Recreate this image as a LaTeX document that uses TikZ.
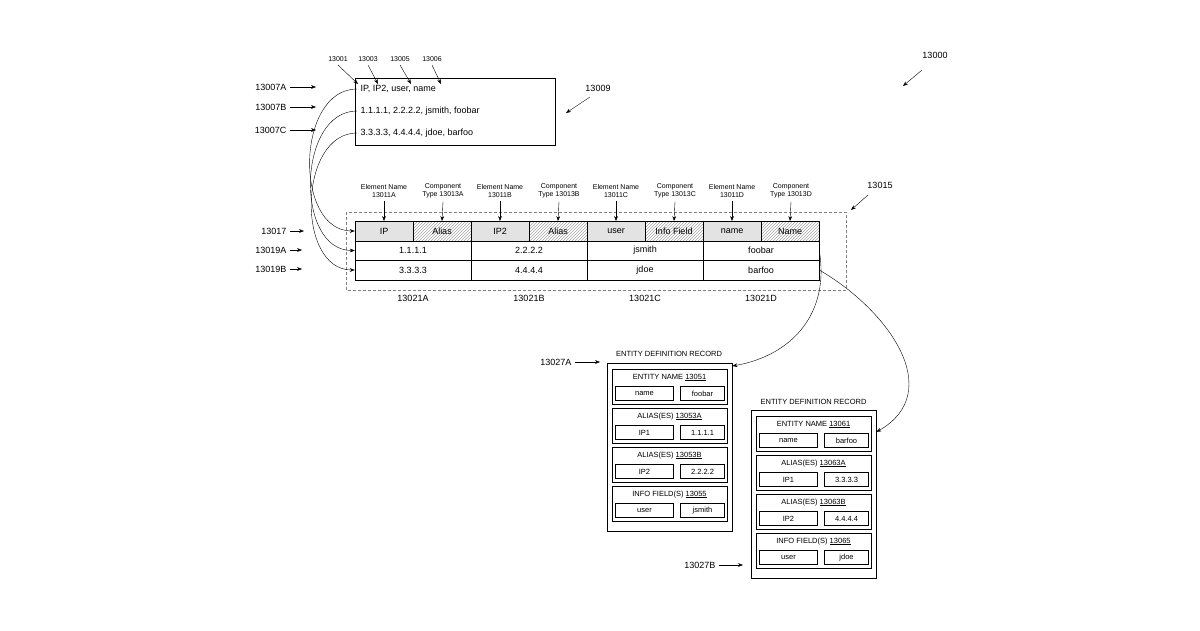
\documentclass[tikz,border=0pt]{standalone}
\usepackage{fontspec}
\setmainfont{Liberation Sans}
\usetikzlibrary{patterns,arrows.meta}
\tikzset{
  lbl/.style={font=\fontsize{9}{10}\selectfont},
  tiny/.style={font=\fontsize{7}{8}\selectfont,align=center},
  ptr/.style={-{Stealth[length=5pt]},thin},
  cell/.style={draw,minimum height=19.5pt,inner sep=0pt,font=\fontsize{9}{10}\selectfont},
  elemcell/.style={cell,fill=gray!22,minimum width=58pt},
  compcell/.style={cell,pattern=north east lines,pattern color=gray!70,minimum width=58pt},
  valcell/.style={cell,minimum width=116pt},
  small/.style={draw,thick,minimum width=#1,minimum height=14pt,inner sep=0pt,font=\fontsize{7.5}{8}\selectfont},
  sect/.style={draw,thick,minimum width=115pt,minimum height=35pt,inner sep=0pt}
}
% one section of an entity definition record
\newcommand{\edrsect}[6]{%
  \node[sect] (#1) at (#2,#3) {};
  \node[font=\fontsize{7.5}{8}\selectfont] at (#2,#3-9) {#4};
  \node[small=58pt] (#1l) at (#2-25,#3+7) {#5};
  \node[small=44pt] (#1r) at (#2+33,#3+7) {#6};
}
\begin{document}
\begin{tikzpicture}[x=1pt,y=-1pt]
	\useasboundingbox (0,0) rectangle (1200,630);
	% reference numeral
	\node[lbl] (n13000) at (935,55) {13000};
	\draw[ptr] (922,70) -- (903,86);
	% input file
	\node[draw,thick,minimum width=200pt,minimum height=67pt,anchor=north west] (file) at (355,78) {};
	\node[lbl,anchor=west] (l1) at (357,89) {IP, IP2, user, name};
	\node[lbl,anchor=west] (l2) at (357,111) {1.1.1.1, 2.2.2.2, jsmith, foobar};
	\node[lbl,anchor=west] (l3) at (357,133) {3.3.3.3, 4.4.4.4, jdoe, barfoo};
	\node[lbl] (n13009) at (598,88) {13009};
	\draw[ptr] (590,97) -- (566,113);
	\foreach \n/\x/\t in {13001/338/358,13003/368/378,13005/400/411,13006/432/441}{
		\node[tiny] (c\n) at (\x,59) {\n};
		\draw[ptr] (c\n.south) -- (\t,84);
	}
	\foreach \n/\y in {A/87,B/107,C/130}{
		\node[lbl,anchor=east] (r\n) at (290,\y) {13007\n};
		\draw[ptr] (r\n.east) -- (316,\y);
	}
	% table
	\draw[densely dashed,gray] (346,212) rectangle (846,290);
	\node[lbl] (n13015) at (880,185) {13015};
	\draw[ptr] (868,195) -- (851,210);
	\foreach \i/\e/\c/\k in {0/IP/Alias/A,1/IP2/Alias/B,2/user/Info Field/C,3/name/Name/D}{
		\node[elemcell] (e\k) at (384+116*\i,231) {\e};
		\node[compcell] (t\k) at (442+116*\i,231) {\c};
		\node[tiny] (en\k) at (384+116*\i,191) {Element Name\\13011\k};
		\node[tiny] (ct\k) at (443+116*\i,191) {Component\\Type 13013\k};
		\draw[ptr] (en\k.south) -- (e\k.north);
		\draw[ptr] (ct\k.south) -- (t\k.north);
		\node[lbl] (col\k) at (413+116*\i,298) {13021\k};
	}
	\foreach \i/\a/\b/\k in {0/1.1.1.1/3.3.3.3/A,1/2.2.2.2/4.4.4.4/B,2/jsmith/jdoe/C,3/foobar/barfoo/D}{
		\node[valcell] (v\k) at (413+116*\i,250.5) {\a};
		\node[valcell] (w\k) at (413+116*\i,270) {\b};
	}
	\node[lbl,anchor=east] (n13017) at (290,231) {13017};
	\draw[ptr] (n13017.east) -- (304,231);
	\node[lbl,anchor=east] (n13019A) at (290,250) {13019A};
	\draw[ptr] (n13019A.east) -- (302,250);
	\node[lbl,anchor=east] (n13019B) at (290,269) {13019B};
	\draw[ptr] (n13019B.east) -- (302,269);
	% rows of the file into the table
	\draw[ptr] (l1.west) to[out=180,in=180,looseness=1.1] (eA.west);
	\draw[ptr] (l2.west) to[out=180,in=180,looseness=1.1] (vA.west);
	\draw[ptr] (l3.west) to[out=180,in=180,looseness=1.1] (wA.west);
	% entity definition record A
	\node[font=\fontsize{7.5}{8}\selectfont] (titA) at (669,354) {ENTITY DEFINITION RECORD};
	\node[draw,thick,minimum width=125pt,minimum height=168pt] (edrA) at (669.5,447) {};
	\edrsect{a1}{669.5}{386.5}{ENTITY NAME \underline{13051}}{name}{foobar}
	\edrsect{a2}{669.5}{425.5}{ALIAS(ES) \underline{13053A}}{IP1}{1.1.1.1}
	\edrsect{a3}{669.5}{464.5}{ALIAS(ES) \underline{13053B}}{IP2}{2.2.2.2}
	\edrsect{a4}{669.5}{503.5}{INFO FIELD(S) \underline{13055}}{user}{jsmith}
	\node[lbl,anchor=east] (n13027A) at (575,362) {13027A};
	\draw[ptr] (n13027A.east) -- (600,362);
	% entity definition record B
	\node[font=\fontsize{7.5}{8}\selectfont] (titB) at (813.5,402) {ENTITY DEFINITION RECORD};
	\node[draw,thick,minimum width=125pt,minimum height=168pt] (edrB) at (813.5,494) {};
	\edrsect{b1}{813.5}{433.5}{ENTITY NAME \underline{13061}}{name}{barfoo}
	\edrsect{b2}{813.5}{472.5}{ALIAS(ES) \underline{13063A}}{IP1}{3.3.3.3}
	\edrsect{b3}{813.5}{511.5}{ALIAS(ES) \underline{13063B}}{IP2}{4.4.4.4}
	\edrsect{b4}{813.5}{550.5}{INFO FIELD(S) \underline{13065}}{user}{jdoe}
	\node[lbl,anchor=east] (n13027B) at (719,565) {13027B};
	\draw[ptr] (n13027B.east) -- (743,565);
	% table rows into the records
	\draw[ptr] (vD.east) to[out=-80,in=10,looseness=1.1] (edrA.north east|-0,366);
	\draw[ptr] (wD.east) to[out=-30,in=30,looseness=1.2] (edrB.north east|-0,432);
\end{tikzpicture}
\end{document}
